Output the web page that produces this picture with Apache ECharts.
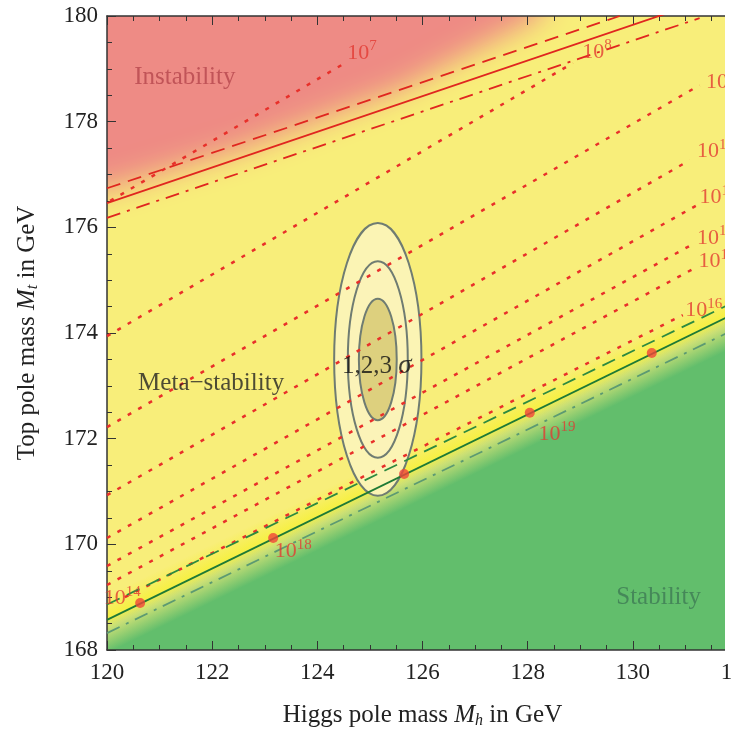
<!DOCTYPE html>
<html>
<head>
<meta charset="utf-8">
<script src="https://cdn.jsdelivr.net/npm/echarts@6/dist/echarts.min.js"></script>
<style>
html, body { margin: 0; padding: 0; background: #fff; }
#main { width: 731px; height: 736px; }
</style>
</head>
<body>
<div id="main"></div>
<script>
// axis ranges
var xRange = [120, 132];
var yRange = [168, 180];

// soft edge of the red (instability) shading, and centre of the yellow->green fade
var instabEdge = [[120, 176.71], [122.53, 177.46], [125.57, 178.6], [128.23, 180]];
var stabEdge = [[120, 168.57], [132, 174.40]];

// instability boundary (red)
var redSolid = [[120, 176.46], [131, 180.17]];
var redDashed = [[120, 176.74], [129.75, 180]];
var redDashDot = [[120, 176.18], [131.27, 179.96]];

// stability boundary (green)
var greenSolid = [[120, 168.57], [132, 174.40]];
var greenDashed = [[120, 168.86], [132, 174.62]];
var greenDashDot = [[120, 168.32], [132, 174.10]];

// instability scale contours (dotted)
var dottedLines = [
  [[120.06, 176.50], [124.56, 179.13]],
  [[120, 173.94], [128.86, 179.11]],
  [[120, 172.22], [131.27, 178.69]],
  [[120, 170.93], [131.08, 177.27]],
  [[120, 170.12], [131.22, 176.42]],
  [[120, 169.59], [131.12, 175.67]],
  [[120, 169.23], [131.18, 175.23]],
  [[120.34, 169.00], [130.95, 174.34]]
];

// 1,2,3 sigma ellipses: centre x, centre y, half width, half height
var ellipses = [
  [125.15, 173.5, 0.83, 2.58],
  [125.15, 173.5, 0.57, 1.86],
  [125.15, 173.5, 0.36, 1.15]
];

// red points on the stability line
var dots = [[120.63, 168.89], [123.16, 170.12], [125.65, 171.33], [128.04, 172.49], [130.36, 173.62]];

// text
var regionLabels = [
  [121.48, 178.83, 'Instability', '#b5464c'],
  [121.98, 173.05, 'Meta\u2212stability', '#222'],
  [130.49, 169.0, 'Stability', '#3f7a55']
];
// [x, y, base, exponent]
var scaleLabels = [
  [124.85, 179.30, '10', '7'],
  [129.32, 179.32, '10', '8'],
  [131.60, 178.75, '10', ''],
  [131.50, 177.44, '10', '1'],
  [131.55, 176.57, '10', '1'],
  [131.50, 175.80, '10', '1'],
  [131.53, 175.36, '10', '1'],
  [131.35, 174.43, '10', '16'],
  [120.29, 168.98, '10', '14'],
  [123.54, 169.87, '10', '18'],
  [128.56, 172.09, '10', '19']
];

var serif = 'Liberation Serif';
var RED = '#ee8b85', YELLOW = '#f8ee7a', GREEN = '#62be6c';

function normal (p0, p1) {
  var dx = p1[0] - p0[0], dy = p1[1] - p0[1];
  var l = Math.sqrt(dx * dx + dy * dy);
  return [-dy / l, dx / l];
}

function lineSeries (pts, color, type, width) {
  return {
    type: 'line',
    data: pts,
    symbol: 'none',
    silent: true,
    z: 3,
    animation: false,
    lineStyle: { color: color, type: type, width: width }
  };
}

var myChart = echarts.init(document.getElementById('main'));

var series = [];

// background colours
series.push({
  type: 'custom',
  silent: true,
  clip: true,
  z: 0,
  data: [0],
  renderItem: function (params, api) {
    var cs = params.coordSys;
    var rect = { x: cs.x, y: cs.y, width: cs.width, height: cs.height };
    // red region: polygon drawn off screen, only its blurred shadow is shown
    var off = 3000;
    var pts = instabEdge.map(function (d) {
      var p = api.coord(d);
      return [p[0] - off, p[1]];
    });
    var last = api.coord(instabEdge[instabEdge.length - 1]);
    var first = api.coord(instabEdge[0]);
    pts.push([last[0] + 60 - off, last[1] - 200]);
    pts.push([first[0] - 200 - off, last[1] - 200]);
    pts.push([first[0] - 200 - off, first[1] + 10]);
    var q0 = api.coord(stabEdge[0]);
    var q1 = api.coord(stabEdge[1]);
    var m = normal(q0, q1);
    return {
      type: 'group',
      children: [
        { type: 'rect', shape: rect, style: { fill: YELLOW } },
        {
          type: 'polygon',
          shape: { points: pts },
          style: { fill: RED, shadowColor: RED, shadowBlur: 30, shadowOffsetX: off, shadowOffsetY: 0 }
        },
        // brighter yellow strip just above the stability line
        {
          type: 'rect',
          shape: rect,
          style: {
            fill: {
              type: 'linear', global: true,
              x: q0[0] - m[0] * 22, y: q0[1] - m[1] * 22,
              x2: q0[0] + m[0] * 8, y2: q0[1] + m[1] * 8,
              colorStops: [
                { offset: 0, color: 'rgba(246,240,60,0)' },
                { offset: 0.65, color: 'rgba(246,240,60,0.85)' },
                { offset: 1, color: 'rgba(246,240,60,0)' }
              ]
            }
          }
        },
        {
          type: 'rect',
          shape: rect,
          style: {
            fill: {
              type: 'linear', global: true,
              x: q0[0] - m[0] * 2, y: q0[1] - m[1] * 2,
              x2: q0[0] + m[0] * 30, y2: q0[1] + m[1] * 30,
              colorStops: [{ offset: 0, color: 'rgba(98,190,108,0)' }, { offset: 1, color: GREEN }]
            }
          }
        }
      ]
    };
  }
});

// sigma ellipses
series.push({
  type: 'custom',
  silent: true,
  z: 1,
  data: ellipses,
  renderItem: function (params, api) {
    var c = api.coord([api.value(0), api.value(1)]);
    var s = api.size([api.value(2), api.value(3)]);
    var fills = ['#fbf4b4', '#fbf3b8', '#ddd07e'];
    return {
      type: 'ellipse',
      shape: { cx: c[0], cy: c[1], rx: s[0], ry: s[1] },
      style: { fill: fills[params.dataIndex], stroke: '#6f7c72', lineWidth: 2 }
    };
  }
});

dottedLines.forEach(function (l) {
  series.push(lineSeries(l, '#e8302a', [4, 8], 2.5));
});
series.push(lineSeries(redSolid, '#e0261f', 'solid', 1.8));
series.push(lineSeries(redDashed, '#e0261f', [14, 8], 1.8));
series.push(lineSeries(redDashDot, '#e0261f', [14, 7, 3, 7], 1.8));
series.push(lineSeries(greenSolid, '#1f7a35', 'solid', 1.8));
series.push(lineSeries(greenDashed, '#2d8a40', [14, 8], 1.8));
series.push(lineSeries(greenDashDot, '#5c9a72', [14, 7, 3, 7], 1.8));

series.push({
  type: 'scatter',
  data: dots,
  symbolSize: 10,
  z: 5,
  silent: true,
  itemStyle: { color: '#f0453a' }
});

series.push({
  type: 'scatter',
  symbolSize: 1,
  z: 6,
  silent: true,
  itemStyle: { color: 'transparent' },
  data: regionLabels.map(function (d) {
    return {
      value: [d[0], d[1]],
      label: { show: true, position: 'inside', formatter: d[2], color: d[3], fontFamily: serif, fontSize: 25 }
    };
  }).concat(scaleLabels.map(function (d) {
    return {
      value: [d[0], d[1]],
      label: {
        show: true, position: 'inside', formatter: d[2] + (d[3] ? '{s|' + d[3] + '}' : ''),
        color: '#e23a32', fontFamily: serif, fontSize: 22,
        rich: { s: { color: '#e23a32', fontFamily: serif, fontSize: 15, padding: [0, 0, 13, 0] } }
      }
    };
  })).concat([{
    value: [125.13, 173.37],
    label: {
      show: true, position: 'inside', formatter: '1,2,3 {i|\u03c3}', color: '#111', fontFamily: serif, fontSize: 25,
      rich: { i: { fontFamily: serif, fontStyle: 'italic', fontSize: 27, color: '#111' } }
    }
  }])
});

var axisText = { fontFamily: serif, fontSize: 23, color: '#222' };
var titleText = {
  fontFamily: serif, fontSize: 25, color: '#222',
  rich: {
    i: { fontFamily: serif, fontStyle: 'italic', fontSize: 25, color: '#222' },
    s: { fontFamily: serif, fontStyle: 'italic', fontSize: 16, color: '#222', padding: [11, 0, 0, 0] }
  }
};

var option = {
  animation: false,
  backgroundColor: '#fff',
  grid: { left: 107, top: 16, right: -7, bottom: 86, outerBoundsMode: 'none', containLabel: false },
  xAxis: [
    {
      type: 'value',
      min: xRange[0],
      max: xRange[1],
      interval: 2,
      position: 'bottom',
      name: 'Higgs pole mass {i|M}{s|h} in GeV',
      nameLocation: 'middle',
      nameGap: 52,
      nameTextStyle: titleText,
      axisLine: { show: true, onZero: false, lineStyle: { color: '#333', width: 1.5 } },
      axisTick: { inside: true, length: 9, lineStyle: { color: '#333' } },
      minorTick: { show: true, splitNumber: 4, length: 5, lineStyle: { color: '#333' } },
      splitLine: { show: false },
      axisLabel: Object.assign({ margin: 11 }, axisText)
    },
    {
      type: 'value',
      min: xRange[0],
      max: xRange[1],
      interval: 2,
      position: 'top',
      axisLine: { show: true, onZero: false, lineStyle: { color: '#333', width: 1.5 } },
      axisTick: { inside: true, length: 9, lineStyle: { color: '#333' } },
      minorTick: { show: true, splitNumber: 4, length: 5, lineStyle: { color: '#333' } },
      splitLine: { show: false },
      axisLabel: { show: false }
    }
  ],
  yAxis: {
    type: 'value',
    min: yRange[0],
    max: yRange[1],
    interval: 2,
    name: 'Top pole mass {i|M}{s|t} in GeV',
    nameLocation: 'middle',
    nameRotate: 90,
    nameGap: 66,
    nameTextStyle: titleText,
    axisLine: { show: true, onZero: false, lineStyle: { color: '#333', width: 1.5 } },
    axisTick: { inside: true, length: 9, lineStyle: { color: '#333' } },
    minorTick: { show: true, splitNumber: 4, length: 5, lineStyle: { color: '#333' } },
    splitLine: { show: false },
    axisLabel: Object.assign({ margin: 9 }, axisText)
  },
  graphic: [
    { type: 'rect', left: 725, top: 0, z: 100, shape: { width: 6, height: 656 }, style: { fill: '#fff' } }
  ],
  series: series
};

myChart.setOption(option);
</script>
</body>
</html>
